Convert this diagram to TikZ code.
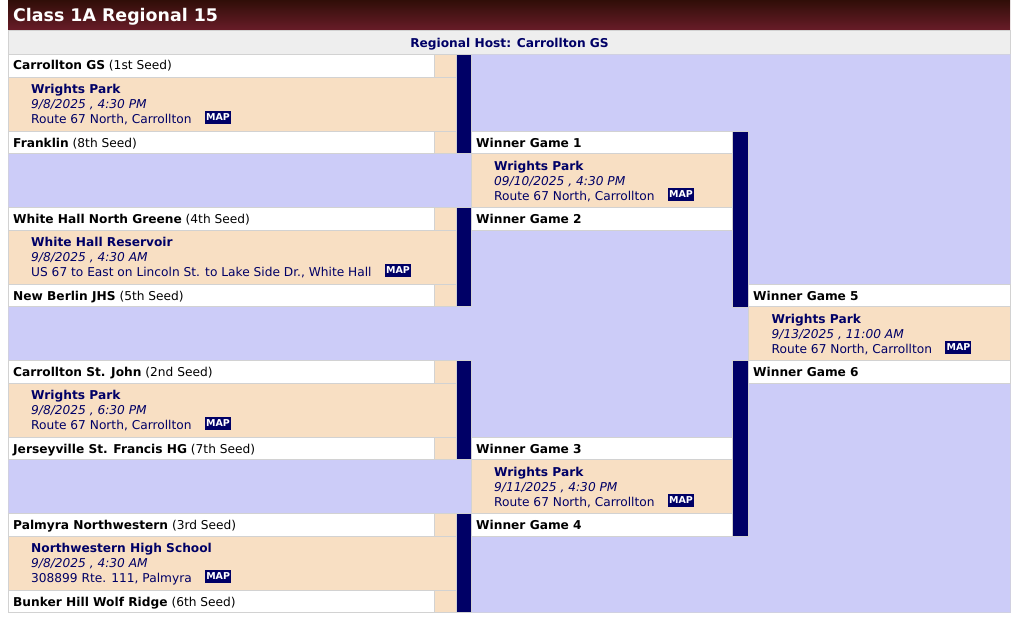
\documentclass[tikz,border=0pt]{standalone}
\usepackage{fontspec}
\setmainfont{DejaVu Sans}
\definecolor{lav}{RGB}{204,204,248}
\definecolor{peach}{RGB}{248,223,195}
\definecolor{navy}{RGB}{0,0,102}
\definecolor{cellline}{RGB}{210,210,210}
\definecolor{hostgray}{RGB}{238,238,238}
\definecolor{maroontop}{RGB}{48,14,8}
\definecolor{maroonbot}{RGB}{104,28,40}
\tikzset{
  cell/.style={draw=cellline, line width=0.8pt},
  teamcell/.style={cell, fill=white},
  infocell/.style={cell, fill=peach},
  barcell/.style={fill=navy, draw=cellline, line width=0.6pt},
  basetxt/.style={anchor=base west, inner sep=0pt, font=\fontsize{12.2}{14}\selectfont},
  teamtxt/.style={basetxt, text=black},
  venuetxt/.style={basetxt, text=navy, font=\fontsize{12.2}{14}\selectfont\bfseries},
  datetxt/.style={basetxt, text=navy, font=\fontsize{12.2}{14}\selectfont\itshape},
  addrtxt/.style={basetxt, text=navy},
  mapbadge/.style={fill=navy, text=white, font=\fontsize{9.5}{10}\selectfont\bfseries, inner sep=0pt, minimum width=26pt, minimum height=13pt, anchor=west}
}
% first round game: id, top y, team1, seed1, team2, seed2, venue, date, address
\newcommand{\firstroundgame}[9]{%
  \path[teamcell] (8,#2) rectangle (434,{#2+23});
  \path[infocell] (434,#2) rectangle (456,{#2+23});
  \path[infocell] (8,{#2+23}) rectangle (456,{#2+77});
  \path[teamcell] (8,{#2+77}) rectangle (434,{#2+99.5});
  \path[infocell] (434,{#2+77}) rectangle (456,{#2+99.5});
  \path[barcell] (456,#2) rectangle (471,{#2+99.5});
  \node[teamtxt] (#1ta) at (13,{#2+16}) {\textbf{#3} (#4 Seed)};
  \node[teamtxt] (#1tb) at (13,{#2+93}) {\textbf{#5} (#6 Seed)};
  \node[venuetxt] (#1v) at (31,{#2+39.3}) {#7};
  \node[datetxt] (#1d) at (31,{#2+54.3}) {#8};
  \node[addrtxt] (#1a) at (31,{#2+69.3}) {#9};
  \node[mapbadge] (#1m) at ([xshift=13pt,yshift=5.8pt]#1a.base east) {MAP};
}
% later round game: id, top y, left x, right x, text x, info x, winnerA, winnerB, date
\newcommand{\laterroundgame}[9]{%
  \path[teamcell] (#3,#2) rectangle (#4,{#2+22.5});
  \path[infocell] (#3,{#2+22.5}) rectangle (#4,{#2+76});
  \path[teamcell] (#3,{#2+76}) rectangle (#4,{#2+99});
  \node[teamtxt] (#1ta) at (#5,{#2+16}) {\textbf{#7}};
  \node[teamtxt] (#1tb) at (#5,{#2+92}) {\textbf{#8}};
  \node[venuetxt] (#1v) at (#6,{#2+39}) {Wrights Park};
  \node[datetxt] (#1d) at (#6,{#2+54}) {#9};
  \node[addrtxt] (#1a) at (#6,{#2+69}) {Route 67 North, Carrollton};
  \node[mapbadge] (#1m) at ([xshift=13pt,yshift=5.8pt]#1a.base east) {MAP};
}
\begin{document}
\begin{tikzpicture}[x=1pt,y=-1pt]
\useasboundingbox (0,0) rectangle (1024,623);
\fill[white] (0,0) rectangle (1024,623);
% title bar
\shade[top color=maroontop, bottom color=maroonbot] (8,0) rectangle (1010,30);
\node[anchor=base west, inner sep=0pt, text=white, font=\fontsize{17.4}{20}\selectfont\bfseries] (title) at (13,21.3) {Class 1A Regional 15};
% host row
\path[fill=hostgray, draw=cellline, line width=0.8pt] (8,30) rectangle (1010,54);
\node[anchor=base, inner sep=0pt, text=navy, font=\fontsize{12.2}{14}\selectfont\bfseries] (host) at (509.5,47.3) {Regional Host: Carrollton GS};
% bracket background
\path[fill=lav, draw=cellline!60!lav, line width=0.6pt] (8,54) rectangle (1010,612);
% first round
\firstroundgame{g1}{54}{Carrollton GS}{1st}{Franklin}{8th}{Wrights Park}{9/8/2025 , 4:30 PM}{Route 67 North, Carrollton}
\firstroundgame{g2}{207}{White Hall North Greene}{4th}{New Berlin JHS}{5th}{White Hall Reservoir}{9/8/2025 , 4:30 AM}{US 67 to East on Lincoln St. to Lake Side Dr., White Hall}
\firstroundgame{g3}{360}{Carrollton St. John}{2nd}{Jerseyville St. Francis HG}{7th}{Wrights Park}{9/8/2025 , 6:30 PM}{Route 67 North, Carrollton}
\firstroundgame{g4}{513}{Palmyra Northwestern}{3rd}{Bunker Hill Wolf Ridge}{6th}{Northwestern High School}{9/8/2025 , 4:30 AM}{308899 Rte. 111, Palmyra}
% second round
\laterroundgame{g5}{131}{471}{732}{476}{494}{Winner Game 1}{Winner Game 2}{09/10/2025 , 4:30 PM}
\laterroundgame{g6}{437}{471}{732}{476}{494}{Winner Game 3}{Winner Game 4}{9/11/2025 , 4:30 PM}
\path[barcell] (732,131) rectangle (748,307);
\path[barcell] (732,360) rectangle (748,536);
% final
\laterroundgame{g7}{284}{748}{1010}{753}{771.5}{Winner Game 5}{Winner Game 6}{9/13/2025 , 11:00 AM}
\end{tikzpicture}
\end{document}
